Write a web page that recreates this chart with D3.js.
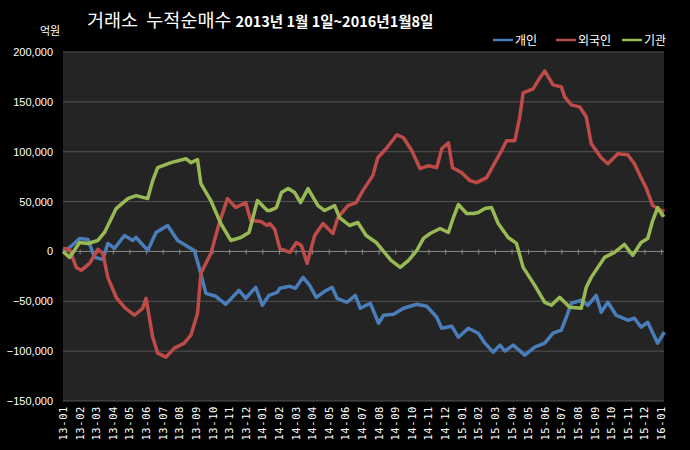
<!DOCTYPE html>
<html><head><meta charset="utf-8">
<script src="https://cdn.jsdelivr.net/npm/d3@7"></script>
<style>body{margin:0;background:#000} text{white-space:pre}</style></head>
<body><svg id="c" width="690" height="450"></svg>
<script>
const monthLabels = ["13-01","13-02","13-03","13-04","13-05","13-06","13-07","13-08","13-09","13-10","13-11","13-12","14-01","14-02","14-03","14-04","14-05","14-06","14-07","14-08","14-09","14-10","14-11","14-12","15-01","15-02","15-03","15-04","15-05","15-06","15-07","15-08","15-09","15-10","15-11","15-12","16-01"];
const yTicks = [-150000,-100000,-50000,0,50000,100000,150000,200000];
// [month index, value in 억원 thousands]
const individual = [[0,0],[0.4,4],[1.0,13],[1.5,12],[1.9,-6],[2.4,-8],[2.7,8],[3.1,3],[3.7,16],[4.2,11],[4.4,14],[5.1,1],[5.6,19],[6.3,26],[6.9,11],[7.4,6],[7.9,1],[8.2,-16],[8.6,-42],[9.2,-45],[9.8,-53],[10.6,-39],[11.0,-47],[11.6,-36],[12.0,-54],[12.4,-44],[12.9,-41],
[13.05,-37],[13.65,-35],[14.0,-37],[14.45,-26],[14.85,-34],[15.25,-46],[15.75,-40],[16.2,-36],[16.5,-47],[17.1,-51],[17.6,-44],[17.9,-57],[18.5,-52],[19.0,-72],[19.3,-64],[19.9,-63],[20.5,-57],[21.3,-53],[21.9,-55],[22.5,-66],[22.8,-77],[23.4,-75],[23.8,-86],[24.4,-77],
[25.0,-82],[25.4,-92],[25.9,-101],[26.3,-94],[26.6,-100],[27.1,-94],[27.8,-104],[28.4,-96],[29.0,-92],[29.5,-82],[30.0,-79],[30.3,-66],[30.6,-52],[31.2,-49],[31.6,-54],[32.1,-44],[32.4,-61],[32.8,-51],[33.3,-64],[34.0,-69],[34.4,-67],[34.8,-76],[35.2,-71],[35.8,-92],[36.2,-81]];
const foreign = [[0,3],[0.4,2],[0.8,-16],[1.1,-19],[1.6,-12],[2.1,2],[2.4,-2],[2.7,-26],[3.2,-46],[3.7,-56],[4.3,-64],[4.8,-57],[5.0,-47],[5.4,-86],[5.7,-102],[6.2,-106],[6.7,-97],[7.3,-92],[7.7,-84],[8.1,-62],[8.3,-22],[8.9,-2],[9.4,28],[9.9,53],[10.4,44],[11.0,49],[11.3,31],[11.9,30],[12.3,26],
[12.45,28],[12.75,22],[13.05,3],[13.65,-1],[14.05,9],[14.35,6],[14.7,-12],[15.15,16],[15.65,28],[16.25,18],[16.55,34],[17.15,46],[17.65,49],[18.05,61],[18.65,76],[18.95,94],[19.45,103],[20.1,117],[20.5,114],[21.0,101],[21.5,83],[22.0,86],[22.5,84],[22.8,103],[23.2,109],[23.45,84],[24.0,79],[24.5,71],[24.9,69],
[25.5,74],[26.0,89],[26.4,101],[26.7,111],[27.2,111],[27.5,135],[27.7,159],[28.3,163],[28.7,174],[29.0,181],[29.5,167],[30.0,165],[30.2,155],[30.6,147],[31.1,145],[31.5,135],[31.8,108],[32.4,94],[32.8,88],[33.4,98],[34.0,97],[34.4,88],[34.8,74],[35.1,64],[35.5,46],[36.0,41],[36.2,40]];
const institution = [[0,0],[0.4,-6],[1.0,9],[1.5,8],[2.1,11],[2.5,19],[3.2,43],[3.9,53],[4.4,56],[5.1,53],[5.4,71],[5.7,84],[6.5,89],[7.4,93],[7.7,89],[8.1,92],[8.3,68],[8.9,51],[9.5,28],[10.1,11],[10.7,14],[11.2,19],[11.7,51],[12.3,41],
[12.45,41],[12.85,44],[13.15,59],[13.55,63],[13.95,59],[14.3,49],[14.75,63],[15.35,46],[15.75,41],[16.35,46],[16.65,34],[17.25,26],[17.75,29],[18.25,16],[18.85,9],[19.25,1],[19.75,-9],[20.3,-16],[20.8,-9],[21.3,1],[21.7,13],[22.1,18],[22.7,23],[23.2,19],[23.5,34],[23.8,47],[24.3,38],[24.7,38],[25.0,39],
[25.4,43],[25.8,44],[26.2,28],[26.8,14],[27.3,8],[27.7,-16],[28.4,-34],[29.0,-51],[29.4,-54],[29.9,-46],[30.5,-56],[31.2,-57],[31.5,-36],[31.8,-26],[32.2,-16],[32.6,-6],[33.2,-1],[33.8,7],[34.3,-4],[34.8,9],[35.2,13],[35.5,31],[35.8,44],[36.1,36],[36.2,37]];

const svg = d3.select("#c");
const L=63, R=664, T=52, B=401;
const x = d3.scaleLinear().domain([0, 36.18]).range([L, R]);
const y = d3.scaleLinear().domain([-150000, 200000]).range([B, T]);

svg.append("rect").attr("width",690).attr("height",450).attr("fill","#000");
svg.append("rect").attr("x",L).attr("y",T).attr("width",R-L).attr("height",B-T).attr("fill","#242424");

svg.append("g").selectAll("line").data(yTicks).join("line")
  .attr("x1",L).attr("x2",R).attr("y1",d=>y(d)).attr("y2",d=>y(d))
  .attr("stroke",d=>d===0?"#8a8a8a":"#555").attr("stroke-width",1);

const fmt = d3.format(",");
svg.append("g").selectAll("text").data(yTicks).join("text")
  .attr("x",53).attr("y",d=>y(d)+4).attr("text-anchor","end")
  .attr("fill","#fff").attr("font-family","Liberation Sans, Arial, sans-serif").attr("font-size",11)
  .text(d=>fmt(d));

const xAxis = d3.axisBottom(x).tickValues(d3.range(monthLabels.length)).tickSize(5).tickFormat("");
const gx = svg.append("g").attr("transform",`translate(0,${y(0)-2})`).call(xAxis);
gx.select(".domain").remove();
gx.selectAll("line").attr("stroke","#8a8a8a");

svg.append("g").selectAll("text").data(monthLabels).join("text")
  .attr("transform",(d,i)=>`translate(${x(i)+4},${B+5}) rotate(-90)`)
  .attr("text-anchor","end").attr("fill","#fff")
  .attr("font-family","DejaVu Sans Mono, monospace").attr("font-size",10.5)
  .attr("letter-spacing",0.6)
  .text(d=>d);

const line = d3.line().x(d=>x(d[0])).y(d=>y(d[1]*1000));
const series = [
  {name:"개인", data:individual, color:"#4a7ebb"},
  {name:"외국인", data:foreign, color:"#be4b48"},
  {name:"기관", data:institution, color:"#98b954"}
];
series.forEach(s=>{
  svg.append("path").datum(s.data).attr("d",line).attr("fill","none")
    .attr("stroke",s.color).attr("stroke-width",3.5).attr("stroke-linejoin","round");
});

const t = svg.append("text").attr("x",87).attr("y",27).attr("fill","#fff")
  .attr("font-family","Noto Sans CJK KR, sans-serif");
t.append("tspan").attr("font-size",18.5).text("거래소  누적순매수 ");
t.append("tspan").attr("font-size",14.5).attr("font-weight","bold").text("2013년 1월 1일~2016년1월8일");
svg.append("text").attr("x",40).attr("y",35).attr("fill","#fff").attr("font-size",11)
  .attr("font-family","Noto Sans CJK KR, sans-serif").text("억원");

const lx=[493,556,622];
series.forEach((s,i)=>{
  svg.append("line").attr("x1",lx[i]).attr("x2",lx[i]+20).attr("y1",40).attr("y2",40)
    .attr("stroke",s.color).attr("stroke-width",2.5);
  svg.append("text").attr("x",lx[i]+22).attr("y",45).attr("fill","#fff").attr("font-size",12)
    .attr("font-family","Noto Sans CJK KR, sans-serif").text(s.name);
});
</script></body></html>
